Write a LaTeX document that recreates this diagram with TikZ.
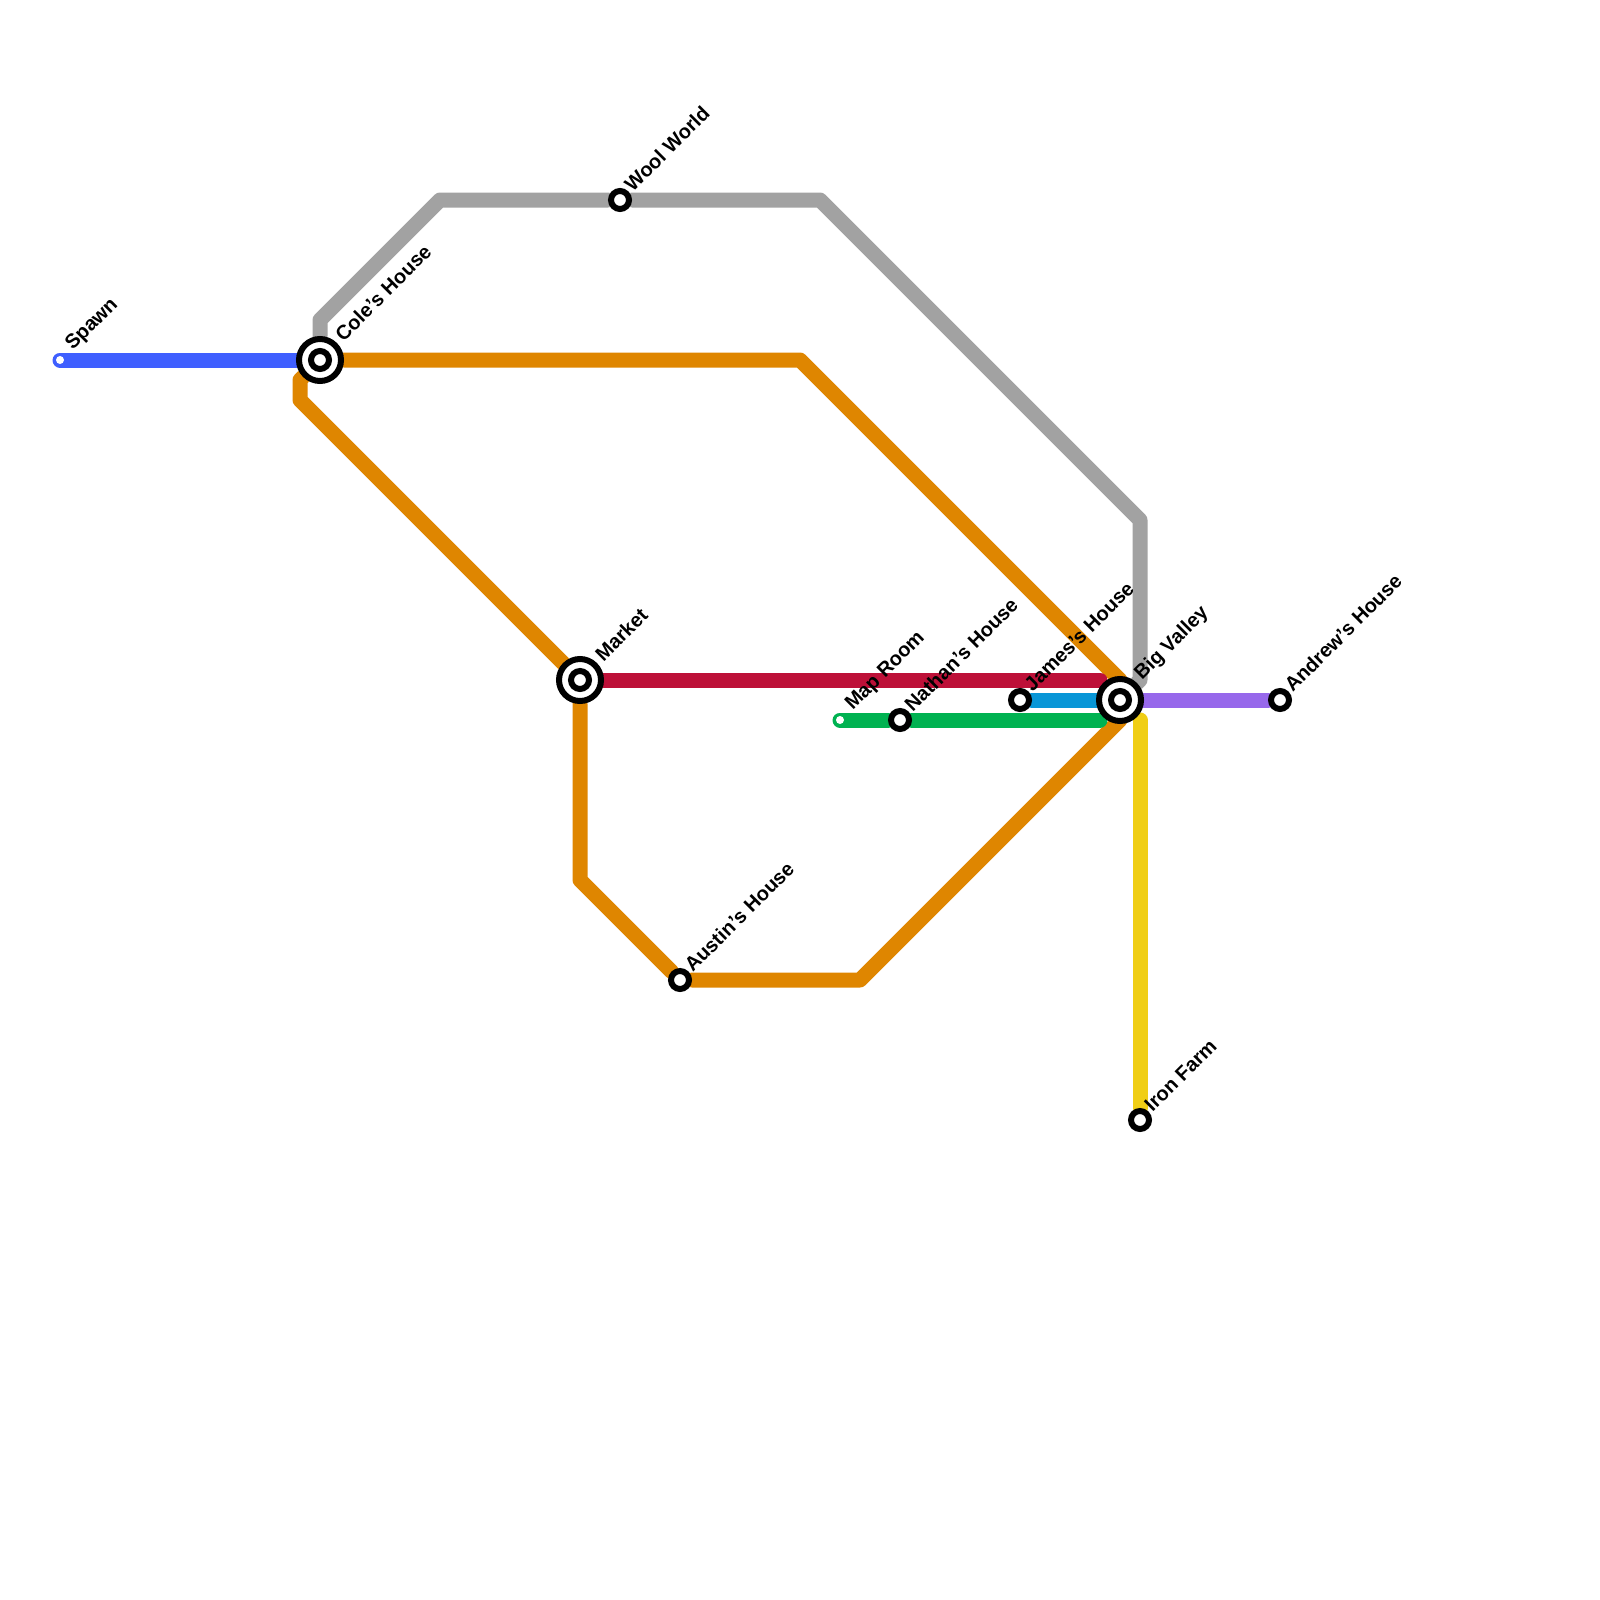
\documentclass[tikz,border=0pt]{standalone}
\usepackage{fontspec}
\setmainfont{Liberation Sans}
\usetikzlibrary{backgrounds}
\definecolor{lineblue}{HTML}{3F5FFF}
\definecolor{lineorange}{HTML}{DF8600}
\definecolor{linegray}{HTML}{A2A2A2}
\definecolor{linered}{HTML}{BD1038}
\definecolor{linegreen}{HTML}{00B251}
\definecolor{linecyan}{HTML}{0896D7}
\definecolor{linepurple}{HTML}{9768EB}
\definecolor{lineyellow}{HTML}{F0CE15}

\begin{document}
\begin{tikzpicture}[x=1pt,y=-1pt,
  stn/.style={circle,draw=black,fill=white,line width=6pt,inner sep=0pt,minimum size=18pt},
  hub/.style={stn,minimum size=42pt},
  endstn/.style={circle,fill=white,inner sep=0pt,minimum size=8pt},
  lbl/.style={font=\fontsize{20}{20}\selectfont\bfseries,rotate=45,anchor=west,inner sep=0pt},
  hublbl/.style={lbl,xshift=5pt,yshift=3pt},
  stnlbl/.style={lbl,xshift=2pt,yshift=3pt},
  endlbl/.style={lbl,xshift=9pt},
  route/.style={line width=15pt,line cap=round,line join=round}]
\useasboundingbox (0,0) rectangle (1600,1600);
% hubs
\node[hub,label={[hublbl]45:Cole's House}] (cole) at (320,360) {};
\node[stn] (coledot) at (320,360) {};
\node[hub,label={[hublbl]45:Market}] (market) at (580,680) {};
\node[stn] (marketdot) at (580,680) {};
\node[hub,label={[hublbl]45:Big Valley}] (valley) at (1120,700) {};
\node[stn] (valleydot) at (1120,700) {};
% plain stations
\node[stn,label={[stnlbl]45:Wool World}] (wool) at (620,200) {};
\node[stn,label={[stnlbl]45:Austin's House}] (austin) at (680,980) {};
\node[stn,label={[stnlbl]45:Nathan's House}] (nathan) at (900,720) {};
\node[stn,label={[stnlbl]45:James's House}] (james) at (1020,700) {};
\node[stn,label={[stnlbl]45:Andrew's House}] (andrew) at (1280,700) {};
\node[stn,label={[stnlbl]45:Iron Farm}] (iron) at (1140,1120) {};
% line ends
\node[endstn,label={[endlbl,label distance=3pt]45:Spawn}] (spawn) at (60,360) {};
\node[endstn,label={[endlbl,label distance=3pt]45:Map Room}] (maproom) at (840,720) {};
\coordinate (redend) at (1100,680);
\coordinate (greenend) at (1100,720);
\coordinate (yellowend) at (1140,720);
\coordinate (upperend) at (1120,680);
\coordinate (lowerend) at (1120,720);
\begin{scope}[on background layer]
\draw[route,linegray] (cole)--(320,320)--(440,200)--(wool)--(820,200)--(1140,520)--(1140,680)--(valley);
\draw[route,lineorange] (cole)--(800,360)--(upperend);
\draw[route,lineorange] (cole)--(300,380)--(300,400)--(560,660)--(market);
\draw[route,lineorange] (market)--(580,880)--(austin)--(860,980)--(lowerend);
\draw[route,lineblue] (spawn.center)--(cole);
\draw[route,linered] (market)--(redend);
\draw[route,linegreen] (maproom.center)--(nathan)--(greenend);
\draw[route,linecyan] (james)--(valley);
\draw[route,linepurple] (valley)--(andrew);
\draw[route,lineyellow] (yellowend)--(iron);
\end{scope}
\end{tikzpicture}
\end{document}
